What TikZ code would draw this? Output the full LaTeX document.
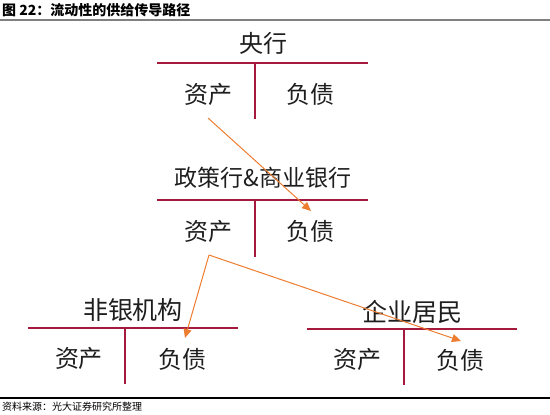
\documentclass[tikz,border=0pt]{standalone}
\usepackage{fontspec}
\setmainfont{Noto Sans CJK SC}
\usetikzlibrary{arrows.meta}
\definecolor{acct}{RGB}{165,25,60}
\definecolor{flow}{RGB}{237,125,49}
\definecolor{txt}{RGB}{30,30,30}
\tikzset{
  tline/.style={draw=acct,line width=2pt},
  lbl/.style={inner sep=0pt,text=txt,font=\fontsize{24}{26}\selectfont},
  hdr/.style={inner sep=0pt,text=txt,font=\fontsize{23}{25}\selectfont},
  flowarrow/.style={draw=flow,line width=1pt,-{Triangle[length=9pt,width=8pt]}},
  flowline/.style={draw=flow,line width=1pt}
}
\begin{document}
\begin{tikzpicture}[x=1pt,y=-1pt]
\useasboundingbox (0,0) rectangle (550,415);
% title
\node[anchor=west,inner sep=0pt,font=\fontsize{14}{16}\selectfont\bfseries] (title) at (2,10) {图 22：流动性的供给传导路径};
\draw[draw=gray,line width=2pt] (0,20) -- (550,20);
% central bank
\node[lbl] (cb) at (263,43) {央行};
\draw[tline] (157,63) -- (368,63);
\draw[tline] (255,63) -- (255,119);
\node[lbl] (cbA) at (208,94) {资产};
\node[lbl] (cbL) at (310,94) {负债};
% banks
\node[hdr] (bk) at (263,178) {政策行\&商业银行};
\draw[tline] (157,200) -- (368,200);
\draw[tline] (255,200) -- (255,257);
\node[lbl] (bkA) at (208,231) {资产};
\node[lbl] (bkL) at (310,231) {负债};
% non-bank
\node[lbl,font=\fontsize{25}{27}\selectfont] (nb) at (133,310) {非银机构};
\draw[tline] (28,328) -- (238,328);
\draw[tline] (125,328) -- (125,384);
\node[lbl] (nbA) at (79,358) {资产};
\node[lbl] (nbL) at (182,359) {负债};
% firms & households
\node[lbl,font=\fontsize{25}{27}\selectfont] (hh) at (412,312) {企业居民};
\draw[tline] (307,329) -- (517,329);
\draw[tline] (404,329) -- (404,385);
\node[lbl] (hhA) at (357,359) {资产};
\node[lbl] (hhL) at (460,360) {负债};
% flows
\coordinate (s1) at (208,118);
\coordinate (t1) at (311,211);
\draw[flowarrow] (s1) -- (t1);
\coordinate (c2) at (209,255);
\coordinate (t2) at (185,338);
\coordinate (t3) at (461,341);
\draw[flowarrow] (c2) -- (t2);
\draw[flowarrow] (c2) -- (t3);
% source
\draw[draw=black,line width=1.5pt] (0,398) -- (550,398);
\node[anchor=west,inner sep=0pt,font=\fontsize{10}{12}\selectfont] (src) at (2,407) {资料来源：光大证券研究所整理};
\end{tikzpicture}
\end{document}
